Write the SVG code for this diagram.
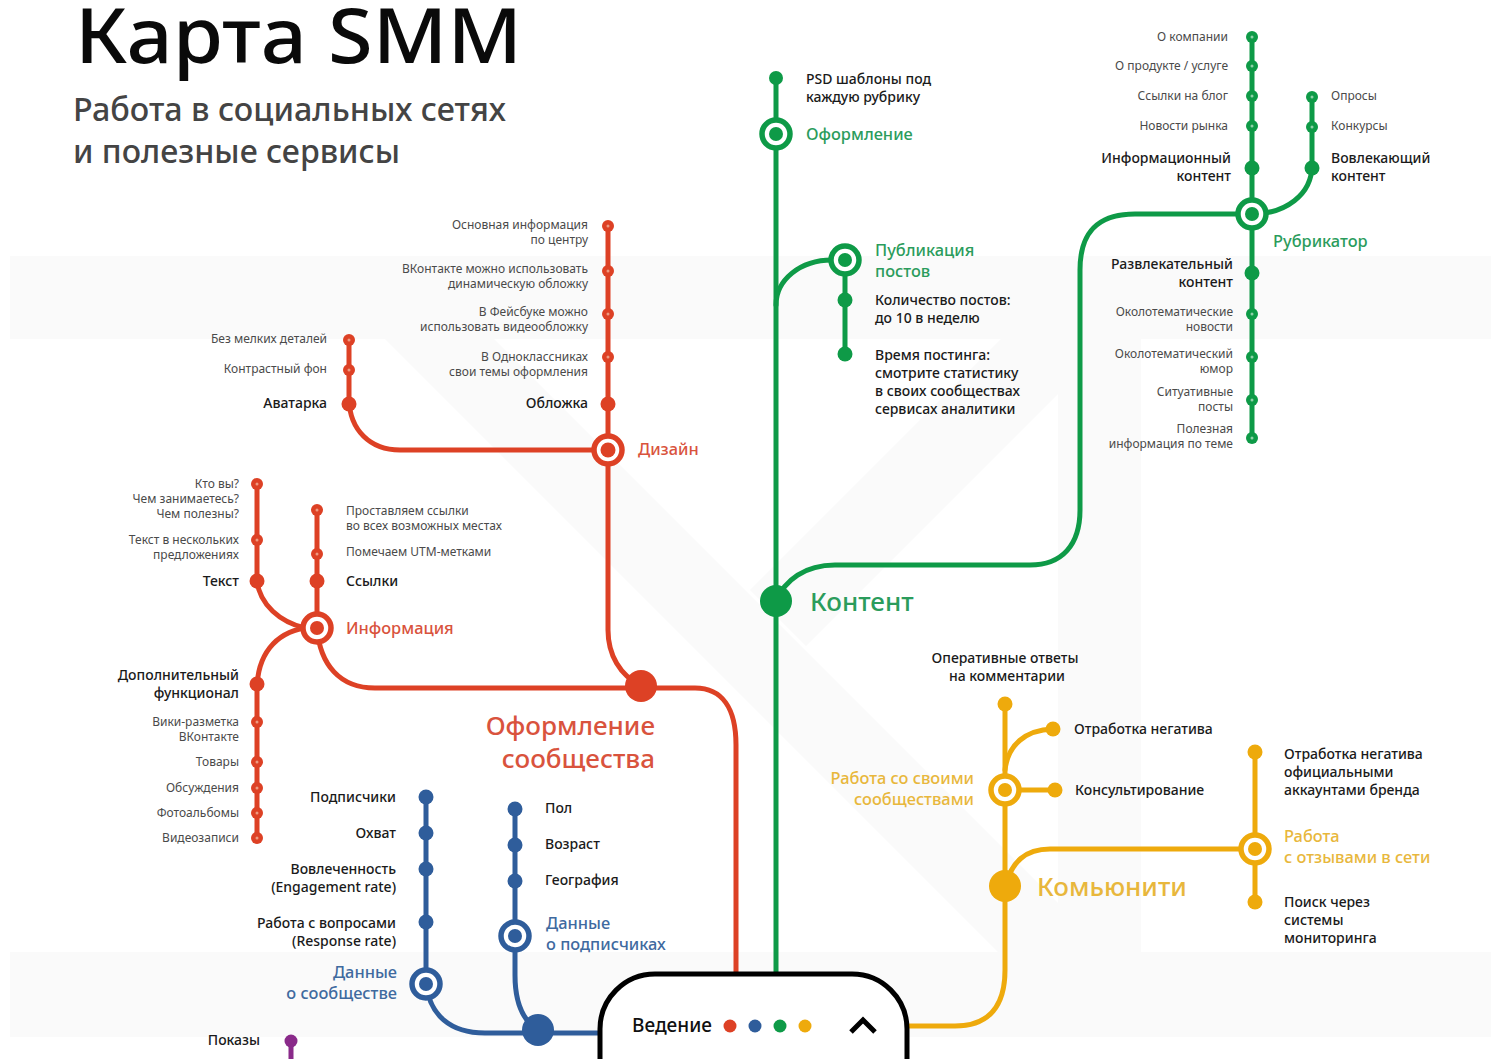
<svg xmlns="http://www.w3.org/2000/svg" width="1491" height="1059" viewBox="0 0 1491 1059">
<style>
text{font-family:"Noto Sans","Open Sans","Liberation Sans",sans-serif}
.bg{fill:#fafafa}
.l{fill:none;stroke-width:5;stroke-linecap:round}
.r{stroke:#dd4125}.g{stroke:#0e9a47}.y{stroke:#eeaa0c}.b{stroke:#2f5d9b}.p{stroke:#8a2a8a}
.fr{fill:#dd4125}.fg{fill:#0e9a47}.fy{fill:#eeaa0c}.fb{fill:#2f5d9b}.fp{fill:#8a2a8a}
.ring{fill:#fff;stroke-width:5.5}
.s{font-size:12px;fill:#4a4a4a}
.m{font-size:14px;font-weight:500;fill:#1a1a1a}
.st{font-size:16.4px;font-weight:500}
.hub{font-size:26px;font-weight:500}
.e{text-anchor:end}
.tr{fill:#d9533d}.tg{fill:#2b9c5c}.ty{fill:#e8b73c}.tb{fill:#3f6a9f}
</style>
<defs>
<g id="sr"><circle r="6" class="fr"/><circle r="1.5" fill="#ee9a80"/></g>
<g id="sg"><circle r="6" class="fg"/><circle r="1.5" fill="#8fd0a8"/></g>
<circle id="mr" r="7.5" class="fr"/>
<circle id="mg" r="7.5" class="fg"/>
<circle id="mb" r="7.5" class="fb"/>
<circle id="my" r="7.5" class="fy"/>
</defs>
<rect width="1491" height="1059" fill="#fff"/>
<g id="background">
<rect class="bg" x="10" y="256" width="1481" height="83"/>
<rect class="bg" x="10" y="952" width="1481" height="85"/>
<rect class="bg" x="1058" y="339" width="83" height="613"/>
<polygon class="bg" points="385,339 494,339 1107,952 998,952"/>
<polygon class="bg" points="750,590 1001,339 1058,339 1058,394 806,646"/>
</g>
<g id="title">
<text x="75" y="63" font-size="76" font-weight="500" fill="#0a0a0a" textLength="447" lengthAdjust="spacingAndGlyphs">Карта SMM</text>
<text x="73" y="121" font-size="32" font-weight="500" fill="#444" textLength="433" lengthAdjust="spacingAndGlyphs">Работа в социальных сетях</text>
<text x="73" y="163" font-size="32" font-weight="500" fill="#444" textLength="327" lengthAdjust="spacingAndGlyphs">и полезные сервисы</text>
</g>
<g id="connectors">
<path class="l r" d="M317 510V628C320 665 340 688 375 688H695C722 688 736 708 736 745V975"/>
<path class="l r" d="M608 226V630C608 655 620 675 641 686"/>
<path class="l r" d="M349 340V400C350 430 370 450 400 450H608"/>
<path class="l r" d="M257 484V581C260 605 280 622 305 628"/>
<path class="l r" d="M305 628C275 633 257 655 257 690V838"/>
<path class="l g" d="M776 78V975"/>
<path class="l g" d="M776 305C776 280 800 260 832 260H845V354"/>
<path class="l g" d="M776 601C785 580 805 565 835 565H1030C1062 565 1080 545 1080 510V270C1080 235 1095 214 1135 214H1252"/>
<path class="l g" d="M1252 37V438"/>
<path class="l g" d="M1252 214C1285 214 1312 195 1312 165V97"/>
<path class="l y" d="M1005 704V970C1005 1005 990 1026 955 1026H908"/>
<path class="l y" d="M1005 770C1008 745 1025 730 1053 729"/>
<path class="l y" d="M1005 790H1055"/>
<path class="l y" d="M1005 886C1012 862 1025 849 1050 849H1255"/>
<path class="l y" d="M1255 752V902"/>
<path class="l b" d="M426 797V984C430 1015 450 1033 485 1033H600"/>
<path class="l b" d="M515 809V975C515 1005 525 1022 538 1030"/>
<path class="l p" d="M291 1041V1059"/>
</g>
<g id="node-oformlenie-soobshchestva">
<circle cx="641" cy="686" r="16" class="fr"/>
<text class="hub tr" text-anchor="end" x="655" y="735"><tspan x="655">Оформление</tspan><tspan x="655" dy="33">сообщества</tspan></text>
</g>
<g id="node-dizayn">
<circle cx="608" cy="450" r="14" class="ring r"/><circle cx="608" cy="450" r="7.5" class="fr"/>
<text class="st tr" x="638" y="455">Дизайн</text>
<use href="#sr" x="608" y="226"/><use href="#sr" x="608" y="271"/><use href="#sr" x="608" y="314"/><use href="#sr" x="608" y="357"/><use href="#mr" x="608" y="404"/>
<text class="s e" x="588" y="229"><tspan x="588">Основная информация</tspan><tspan x="588" dy="15">по центру</tspan></text>
<text class="s e" x="588" y="273"><tspan x="588">ВКонтакте можно использовать</tspan><tspan x="588" dy="15">динамическую обложку</tspan></text>
<text class="s e" x="588" y="316"><tspan x="588">В Фейсбуке можно</tspan><tspan x="588" dy="15">использовать видеообложку</tspan></text>
<text class="s e" x="588" y="361"><tspan x="588">В Одноклассниках</tspan><tspan x="588" dy="15">свои темы оформления</tspan></text>
<text class="m e" x="588" y="408">Обложка</text>
<use href="#sr" x="349" y="340"/><use href="#sr" x="349" y="370"/><use href="#mr" x="349" y="404"/>
<text class="s e" x="327" y="343">Без мелких деталей</text>
<text class="s e" x="327" y="373">Контрастный фон</text>
<text class="m e" x="327" y="408">Аватарка</text>
</g>
<g id="node-informatsiya">
<circle cx="317" cy="628" r="14" class="ring r"/><circle cx="317" cy="628" r="7" class="fr"/>
<text class="st tr" x="346" y="634">Информация</text>
<use href="#sr" x="257" y="484"/><use href="#sr" x="257" y="540"/><use href="#mr" x="257" y="581"/>
<text class="s e" x="239" y="488"><tspan x="239">Кто вы?</tspan><tspan x="239" dy="15">Чем занимаетесь?</tspan><tspan x="239" dy="15">Чем полезны?</tspan></text>
<text class="s e" x="239" y="544"><tspan x="239">Текст в нескольких</tspan><tspan x="239" dy="15">предложениях</tspan></text>
<text class="m e" x="239" y="586">Текст</text>
<use href="#sr" x="317" y="510"/><use href="#sr" x="317" y="554"/><use href="#mr" x="317" y="581"/>
<text class="s" x="346" y="515"><tspan x="346">Проставляем ссылки</tspan><tspan x="346" dy="15">во всех возможных местах</tspan></text>
<text class="s" x="346" y="556">Помечаем UTM-метками</text>
<text class="m" x="346" y="586">Ссылки</text>
<use href="#mr" x="257" y="684"/><use href="#sr" x="257" y="722"/><use href="#sr" x="257" y="762"/><use href="#sr" x="257" y="788"/><use href="#sr" x="257" y="813"/><use href="#sr" x="257" y="838"/>
<text class="m e" x="239" y="680"><tspan x="239">Дополнительный</tspan><tspan x="239" dy="18">функционал</tspan></text>
<text class="s e" x="239" y="726"><tspan x="239">Вики-разметка</tspan><tspan x="239" dy="15">ВКонтакте</tspan></text>
<text class="s e" x="239" y="766">Товары</text>
<text class="s e" x="239" y="792">Обсуждения</text>
<text class="s e" x="239" y="817">Фотоальбомы</text>
<text class="s e" x="239" y="842">Видеозаписи</text>
</g>
<g id="node-dannye-o-soobshchestve">
<circle cx="538" cy="1030" r="16" class="fb"/>
<circle cx="426" cy="984" r="14" class="ring b"/><circle cx="426" cy="984" r="7" class="fb"/>
<text class="st tb e" x="397" y="978"><tspan x="397">Данные</tspan><tspan x="397" dy="21">о сообществе</tspan></text>
<use href="#mb" x="426" y="797"/><use href="#mb" x="426" y="833"/><use href="#mb" x="426" y="869"/><use href="#mb" x="426" y="922"/>
<text class="m e" x="396" y="802">Подписчики</text>
<text class="m e" x="396" y="838">Охват</text>
<text class="m e" x="396" y="874"><tspan x="396">Вовлеченность</tspan><tspan x="396" dy="18">(Engagement rate)</tspan></text>
<text class="m e" x="396" y="928"><tspan x="396">Работа с вопросами</tspan><tspan x="396" dy="18">(Response rate)</tspan></text>
</g>
<g id="node-dannye-o-podpischikah">
<circle cx="515" cy="936" r="14" class="ring b"/><circle cx="515" cy="936" r="7" class="fb"/>
<text class="st tb" x="546" y="929"><tspan x="546">Данные</tspan><tspan x="546" dy="21">о подписчиках</tspan></text>
<use href="#mb" x="515" y="809"/><use href="#mb" x="515" y="845"/><use href="#mb" x="515" y="881"/>
<text class="m" x="545" y="813">Пол</text>
<text class="m" x="545" y="849">Возраст</text>
<text class="m" x="545" y="885">География</text>
</g>
<g id="node-pokazy">
<circle cx="291" cy="1041" r="6.5" class="fp"/>
<text class="m e" x="260" y="1045">Показы</text>
</g>
<g id="node-oformlenie-kontent">
<circle cx="776" cy="78" r="7" class="fg"/>
<text class="m" x="806" y="84"><tspan x="806">PSD шаблоны под</tspan><tspan x="806" dy="18">каждую рубрику</tspan></text>
<circle cx="776" cy="134" r="14" class="ring g"/><circle cx="776" cy="134" r="7" class="fg"/>
<text class="st tg" x="806" y="140">Оформление</text>
</g>
<g id="node-publikatsiya">
<circle cx="845" cy="260" r="14" class="ring g"/><circle cx="845" cy="260" r="7" class="fg"/>
<text class="st tg" x="875" y="256"><tspan x="875">Публикация</tspan><tspan x="875" dy="21">постов</tspan></text>
<use href="#mg" x="845" y="300"/><use href="#mg" x="845" y="354"/>
<text class="m" x="875" y="305"><tspan x="875">Количество постов:</tspan><tspan x="875" dy="18">до 10 в неделю</tspan></text>
<text class="m" x="875" y="360"><tspan x="875">Время постинга:</tspan><tspan x="875" dy="18">смотрите статистику</tspan><tspan x="875" dy="18">в своих сообществах</tspan><tspan x="875" dy="18">сервисах аналитики</tspan></text>
</g>
<g id="node-kontent">
<circle cx="776" cy="601" r="16" class="fg"/>
<text class="hub tg" x="810" y="611">Контент</text>
</g>
<g id="node-rubrikator">
<circle cx="1252" cy="214" r="14" class="ring g"/><circle cx="1252" cy="214" r="7" class="fg"/>
<text class="st tg" x="1273" y="247">Рубрикатор</text>
<use href="#sg" x="1252" y="37"/><use href="#sg" x="1252" y="66"/><use href="#sg" x="1252" y="96"/><use href="#sg" x="1252" y="126"/><use href="#mg" x="1252" y="168"/>
<text class="s e" x="1228" y="41">О компании</text>
<text class="s e" x="1228" y="70">О продукте / услуге</text>
<text class="s e" x="1228" y="100">Ссылки на блог</text>
<text class="s e" x="1228" y="130">Новости рынка</text>
<text class="m e" x="1231" y="163"><tspan x="1231">Информационный</tspan><tspan x="1231" dy="18">контент</tspan></text>
<use href="#sg" x="1312" y="97"/><use href="#sg" x="1312" y="127"/><use href="#mg" x="1312" y="168"/>
<text class="s" x="1331" y="100">Опросы</text>
<text class="s" x="1331" y="130">Конкурсы</text>
<text class="m" x="1331" y="163"><tspan x="1331">Вовлекающий</tspan><tspan x="1331" dy="18">контент</tspan></text>
<use href="#mg" x="1252" y="273"/><use href="#sg" x="1252" y="314"/><use href="#sg" x="1252" y="357"/><use href="#sg" x="1252" y="400"/><use href="#sg" x="1252" y="438"/>
<text class="m e" x="1233" y="269"><tspan x="1233">Развлекательный</tspan><tspan x="1233" dy="18">контент</tspan></text>
<text class="s e" x="1233" y="316"><tspan x="1233">Околотематические</tspan><tspan x="1233" dy="15">новости</tspan></text>
<text class="s e" x="1233" y="358"><tspan x="1233">Околотематический</tspan><tspan x="1233" dy="15">юмор</tspan></text>
<text class="s e" x="1233" y="396"><tspan x="1233">Ситуативные</tspan><tspan x="1233" dy="15">посты</tspan></text>
<text class="s e" x="1233" y="433"><tspan x="1233">Полезная</tspan><tspan x="1233" dy="15">информация по теме</tspan></text>
</g>
<g id="node-komyuniti">
<circle cx="1005" cy="886" r="16" class="fy"/>
<text class="hub ty" x="1037" y="896">Комьюнити</text>
</g>
<g id="node-rabota-so-svoimi">
<circle cx="1005" cy="790" r="14" class="ring y"/><circle cx="1005" cy="790" r="7" class="fy"/>
<text class="st ty e" x="974" y="784"><tspan x="974">Работа со своими</tspan><tspan x="974" dy="21">сообществами</tspan></text>
<use href="#my" x="1005" y="704"/><use href="#my" x="1053" y="729"/><use href="#my" x="1055" y="790"/>
<text class="m" text-anchor="middle" x="1005" y="663"><tspan x="1005">Оперативные ответы</tspan><tspan x="1007" dy="18">на комментарии</tspan></text>
<text class="m" x="1074" y="734">Отработка негатива</text>
<text class="m" x="1075" y="795">Консультирование</text>
</g>
<g id="node-rabota-s-otzyvami">
<circle cx="1255" cy="849" r="14" class="ring y"/><circle cx="1255" cy="849" r="7" class="fy"/>
<text class="st ty" x="1284" y="842"><tspan x="1284">Работа</tspan><tspan x="1284" dy="21">с отзывами в сети</tspan></text>
<use href="#my" x="1255" y="752"/><use href="#my" x="1255" y="902"/>
<text class="m" x="1284" y="759"><tspan x="1284">Отработка негатива</tspan><tspan x="1284" dy="18">официальными</tspan><tspan x="1284" dy="18">аккаунтами бренда</tspan></text>
<text class="m" x="1284" y="907"><tspan x="1284">Поиск через</tspan><tspan x="1284" dy="18">системы</tspan><tspan x="1284" dy="18">мониторинга</tspan></text>
</g>
<g id="node-vedenie">
<rect x="600" y="974" width="307" height="200" rx="55" fill="#fff" stroke="#000" stroke-width="5"/>
<text x="632" y="1032" font-size="19" font-weight="500" fill="#111">Ведение</text>
<circle cx="730" cy="1026" r="6.5" class="fr"/><circle cx="755" cy="1026" r="6.5" class="fb"/><circle cx="780" cy="1026" r="6.5" class="fg"/><circle cx="805" cy="1026" r="6.5" class="fy"/>
<path d="M851 1032L863 1020L875 1032" fill="none" stroke="#000" stroke-width="5"/>
</g>
</svg>
